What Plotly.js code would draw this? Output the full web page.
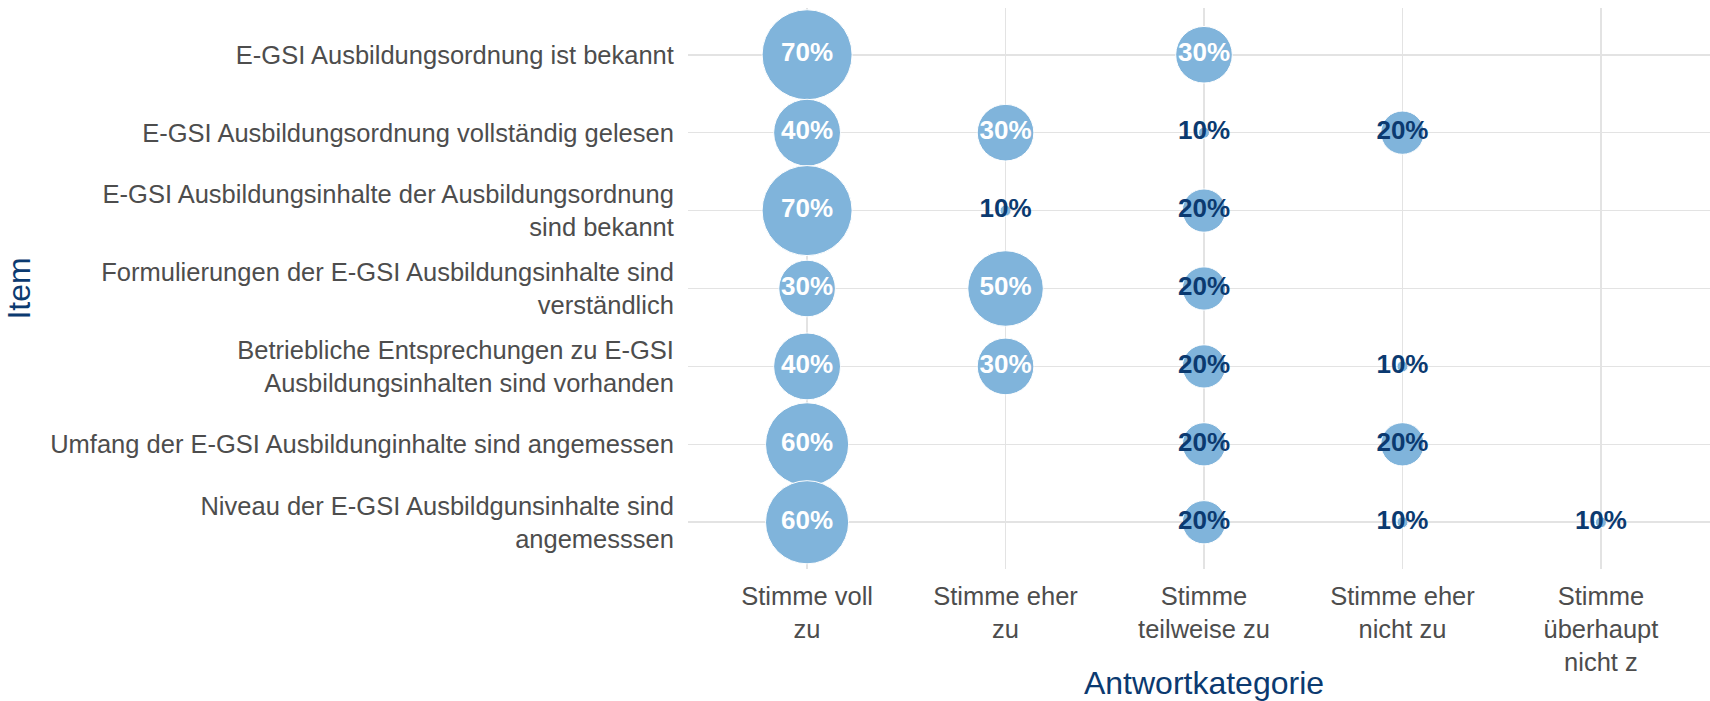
<!DOCTYPE html>
<html>
<head>
<meta charset="utf-8">
<script src="https://cdn.plot.ly/plotly-3.0.1.min.js"></script>
<style>
  html, body { margin: 0; padding: 0; overflow: hidden; background: #ffffff; }
  #chart { width: 1720px; height: 701px; }
</style>
</head>
<body>
<div id="chart"></div>
<script>
// ---- Data ----
const items = [
  "E-GSI Ausbildungsordnung ist bekannt",
  "E-GSI Ausbildungsordnung vollständig gelesen",
  "E-GSI Ausbildungsinhalte der Ausbildungsordnung<br>sind bekannt",
  "Formulierungen der E-GSI Ausbildungsinhalte sind<br>verständlich",
  "Betriebliche Entsprechungen zu E-GSI<br>Ausbildungsinhalten sind vorhanden",
  "Umfang der E-GSI Ausbildunginhalte sind angemessen",
  "Niveau der E-GSI Ausbildgunsinhalte sind<br>angemesssen"
];
const categories = [
  "Stimme voll<br>zu",
  "Stimme eher<br>zu",
  "Stimme<br>teilweise zu",
  "Stimme eher<br>nicht zu",
  "Stimme<br>überhaupt<br>nicht z"
];
// Percent per item, one array per answer category (null = no answers)
const stimmeVollZu          = [70, 40, 70, 30, 40, 60, 60];
const stimmeEherZu          = [null, 30, 10, 50, 30, null, null];
const stimmeTeilweiseZu     = [30, 10, 20, 20, 20, 20, 20];
const stimmeEherNichtZu     = [null, 20, null, null, 10, 20, 10];
const stimmeUeberhauptNicht = [null, null, null, null, null, null, 10];
const valuesByCategory = [stimmeVollZu, stimmeEherZu, stimmeTeilweiseZu, stimmeEherNichtZu, stimmeUeberhauptNicht];

// ---- Build points ----
const xs = [], ys = [], vals = [];
valuesByCategory.forEach((arr, ci) => {
  arr.forEach((v, ii) => {
    if (v !== null) { xs.push(categories[ci]); ys.push(items[ii]); vals.push(v); }
  });
});
const vMin = Math.min(...vals), vMax = Math.max(...vals);
const dMin = 11, dMax = 90;
const sizes = vals.map(v => dMin + (dMax - dMin) * Math.sqrt((v - vMin) / (vMax - vMin)));
const labels = vals.map(v => v + "%");
const labelColors = vals.map(v => v >= 30 ? "#ffffff" : "#0b3a70");

const FONT = "'Liberation Sans', Arial, Helvetica, sans-serif";
const trace = {
  type: "scatter",
  mode: "markers+text",
  x: xs,
  y: ys,
  text: labels,
  textposition: "middle center",
  textfont: { family: FONT, size: 26, color: labelColors, weight: "bold" },
  marker: {
    size: sizes,
    sizemode: "diameter",
    color: "#80b4db",
    opacity: 1,
    line: { color: "#ffffff", width: 1 }
  },
  hoverinfo: "none",
  cliponaxis: false
};

const layout = {
  width: 1720,
  height: 701,
  margin: { l: 688, r: 0, t: 8, b: 132 },
  paper_bgcolor: "#ffffff",
  plot_bgcolor: "#ffffff",
  showlegend: false,
  font: { family: FONT, color: "#4d4d4d", size: 25.5 },
  xaxis: {
    type: "category",
    categoryorder: "array",
    categoryarray: categories,
    range: [-0.6, 4.6],
    showgrid: true,
    gridcolor: "#e3e3e3",
    gridwidth: 1.6,
    zeroline: false,
    showline: false,
    ticks: "outside",
    ticklen: 4,
    tickcolor: "rgba(0,0,0,0)",
    tickfont: { family: FONT, size: 25.5, color: "#4d4d4d" },
    title: { text: "Antwortkategorie", font: { family: FONT, size: 32, color: "#0b3a70" }, standoff: 10 },
    automargin: false,
    fixedrange: true
  },
  yaxis: {
    type: "category",
    categoryorder: "array",
    categoryarray: items,
    range: [6.6, -0.6],
    showgrid: true,
    gridcolor: "#e3e3e3",
    gridwidth: 1.6,
    zeroline: false,
    showline: false,
    ticks: "outside",
    ticklen: 8,
    tickcolor: "rgba(0,0,0,0)",
    tickfont: { family: FONT, size: 25.5, color: "#4d4d4d" },
    title: { text: "Item", font: { family: FONT, size: 32, color: "#0b3a70" }, standoff: 9 },
    automargin: false,
    fixedrange: true
  }
};

Plotly.newPlot("chart", [trace], layout, { displayModeBar: false, staticPlot: true });
</script>
</body>
</html>
